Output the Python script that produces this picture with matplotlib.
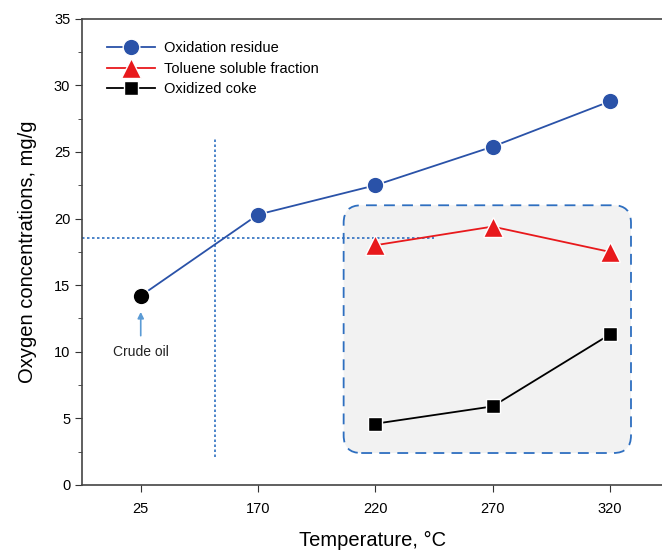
import matplotlib.pyplot as plt
from matplotlib.patches import FancyBboxPatch

plt.rcParams['font.family'] = ['Liberation Sans', 'DejaVu Sans']

temps = ["25", "170", "220", "270", "320"]
residue = [14.2, 20.3, 22.5, 25.4, 28.8]
toluene = [18.0, 19.4, 17.5]      # 220, 270, 320
coke = [4.6, 5.9, 11.3]           # 220, 270, 320

BLUE = "#2a52a8"
RED = "#e8191c"

fig = plt.figure(figsize=(6.62, 5.53), dpi=100)
ax = fig.add_axes([0.124, 0.123, 0.877, 0.843])

x = list(range(len(temps)))
x_hi = x[2:]

# shaded dashed box around the fractions
box = FancyBboxPatch((1.73, 2.4), 2.45, 18.6,
                     boxstyle="round,pad=0,rounding_size=0.15",
                     mutation_aspect=8.8, facecolor="#f2f2f2",
                     edgecolor="#2e6fc0", linestyle=(0, (6, 4)), lw=1.3, zorder=1)
ax.add_patch(box)

# dotted guide lines
ax.plot([0.63, 0.63], [2.1, 26.1], color="#2e6fc0", ls=(0, (1.5, 1.5)), lw=1.2, zorder=2)
ax.plot([-0.5, 2.5], [18.55, 18.55], color="#2e6fc0", ls=(0, (1.5, 1.5)), lw=1.2, zorder=2)

ax.plot(x, residue, color=BLUE, lw=1.3, zorder=3)
ax.plot(x[1:], residue[1:], "o", color=BLUE, ms=12, mec="white", mew=1, zorder=4)
ax.plot(x[0], residue[0], "o", color="black", ms=12, mec="white", mew=1, zorder=4)
ax.plot(x_hi, toluene, "-^", color=RED, lw=1.3, ms=14, mec="white", mew=1, zorder=4,
        label="Toluene soluble fraction")
ax.plot(x_hi, coke, "-s", color="black", lw=1.3, ms=10.5, mec="white", mew=1, zorder=4,
        label="Oxidized coke")

# legend handle for residue with line
h1, = ax.plot([], [], "-o", color=BLUE, lw=1.3, ms=12, mec="white", mew=1,
              label="Oxidation residue")
handles, labels = ax.get_legend_handles_labels()
order = [2, 0, 1]
ax.legend([handles[i] for i in order], [labels[i] for i in order],
          loc="upper left", bbox_to_anchor=(0.02, 0.98),
          frameon=False, fontsize=10.5, handlelength=3.3, handletextpad=0.6,
          labelspacing=0.45)

ax.annotate("", xy=(0, 13.2), xytext=(0, 11.0),
            arrowprops=dict(arrowstyle="-|>", color="#5b9bd5", lw=1.2, mutation_scale=9))
ax.text(0, 10.0, "Crude oil", ha="center", va="center", fontsize=10, color="#222222")

ax.set_xlim(-0.5, 4.45)
ax.set_ylim(0, 35)
ax.set_xticks(x)
ax.set_xticklabels(temps)
ax.set_yticks(range(0, 36, 5))
ax.set_yticks([i * 2.5 for i in range(15)], minor=True)
ax.tick_params(axis="both", which="major", direction="out", length=5, labelsize=10.5,
               color="#333333")
ax.tick_params(axis="y", which="minor", direction="out", length=3, color="#333333")
ax.tick_params(axis="x", pad=7)

for s in ["left", "bottom", "top"]:
    ax.spines[s].set_color("#444444")
    ax.spines[s].set_linewidth(1.2)
ax.spines["right"].set_visible(False)

ax.set_xlabel("Temperature, °C", fontsize=14.5, labelpad=11)
ax.set_ylabel("Oxygen concentrations, mg/g", fontsize=14.5, labelpad=12)

fig.savefig("out.png", dpi=100)
